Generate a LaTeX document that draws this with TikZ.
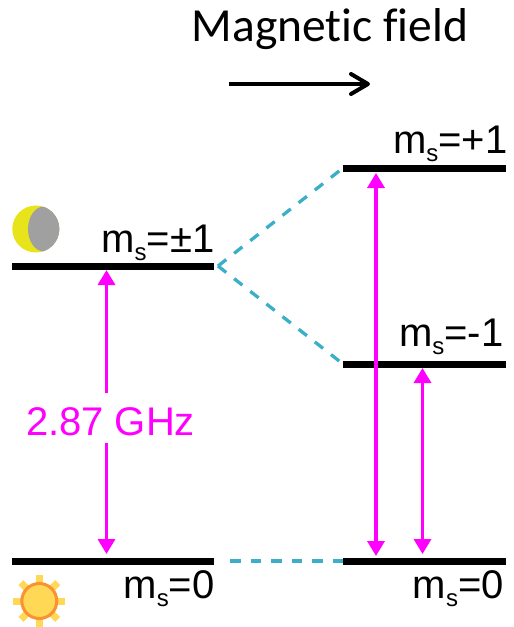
\documentclass[tikz,border=0pt]{standalone}
\usepackage{fontspec}
\setmainfont{Liberation Sans}
\newfontfamily\titlefont{Carlito}
\usetikzlibrary{arrows.meta}
\definecolor{mag}{RGB}{255,0,255}
\definecolor{dashblue}{RGB}{60,175,200}
\definecolor{moonY}{RGB}{232,228,28}
\definecolor{moonG}{RGB}{160,160,160}
\definecolor{sunF}{RGB}{255,216,85}
\definecolor{sunE}{RGB}{250,145,50}
\newcommand{\msub}{m\raisebox{-8pt}{\fontsize{24}{24}\selectfont s}}
\tikzset{
 x=1pt,y=-1pt,
 level/.style={line width=7pt},
 trans/.style={mag,line width=3.3pt,{Triangle[length=15pt,width=17pt]}-{Triangle[length=15pt,width=17pt]}},
 transend/.style={mag,line width=3.3pt,-{Triangle[length=15pt,width=17pt]}},
 link/.style={dashblue,line width=3.3pt,dash pattern=on 10.5pt off 10pt},
 lab/.style={inner sep=0pt,font=\fontsize{40}{40}\selectfont,anchor=base east},
}
\begin{document}
\begin{tikzpicture}
\useasboundingbox (0,0) rectangle (514,627);
% level end points
\coordinate (LpL) at (12,266); \coordinate (LpR) at (214,266);
\coordinate (L0L) at (12,561); \coordinate (L0R) at (214,561);
\coordinate (RpL) at (343,168); \coordinate (RpR) at (506,168);
\coordinate (RmL) at (343,364); \coordinate (RmR) at (506,364);
\coordinate (R0L) at (343,561); \coordinate (R0R) at (506,561);
% dashed links
\coordinate (apex) at (218,266);
\coordinate (b0) at (230,561);
\draw[link] (apex) -- (RpL);
\draw[link] (apex) -- (RmL);
\draw[link] (b0) -- (R0L);
% levels
\draw[level] (LpL) -- (LpR);
\draw[level] (L0L) -- (L0R);
\draw[level] (RpL) -- (RpR);
\draw[level] (RmL) -- (RmR);
\draw[level] (R0L) -- (R0R);
% transitions
\coordinate (a1) at (106.5,270); \coordinate (a2) at (106.5,554);
\coordinate (gapT) at (106.5,393); \coordinate (gapB) at (106.5,443);
\coordinate (b1) at (376,173); \coordinate (b2) at (376,556);
\coordinate (c1) at (422.5,368); \coordinate (c2) at (422.5,554);
\node[inner sep=0pt,text=mag,font=\fontsize{40}{40}\selectfont,anchor=base] (ghz) at (110.5,435) {2.87 GHz};
\draw[transend] (gapT) -- (a1);
\draw[transend] (gapB) -- (a2);
\draw[trans] (b1) -- (b2);
\draw[trans] (c1) -- (c2);
% labels
\node[lab] (l1) at (214.5,252) {\msub=±1};
\node[lab] (l2) at (214.7,598) {\msub=0};
\node[lab] (l3) at (507.5,153.3) {\msub=+1};
\node[lab] (l4) at (503.5,346.7) {\msub=-1};
\node[lab] (l5) at (504,598) {\msub=0};
% title and field arrow
\node[inner sep=0pt,font=\titlefont\fontsize{47.5}{47.5}\selectfont,anchor=base] (title) at (330,41.7) {Magnet\kern0pt ic f\kern0pt ield};
\coordinate (f1) at (229,84); \coordinate (f2) at (370,84);
\draw[line width=4pt,-{Straight Barb[length=17pt,width=20pt,line width=4pt,round]}] (f1) -- (f2);
% moon
\fill[moonY] (35.8,229) circle (23.5);
\begin{scope}
\clip (35.8,229) circle (23.5);
\fill[moonG] (44,229) ellipse (16 and 22.5);
\fill[moonG] (44,206) rectangle (60,252);
\end{scope}
% sun
\foreach \a in {0,45,...,315}
  \fill[sunF] (39.3,601) ++(\a:26) ++(\a+90:3.5) -- ++(\a:-9) -- ++(\a-90:7) -- ++(\a:9) -- cycle;
\draw[sunE,line width=3pt,fill=sunF] (39.3,601) circle (17.5);
\end{tikzpicture}
\end{document}
